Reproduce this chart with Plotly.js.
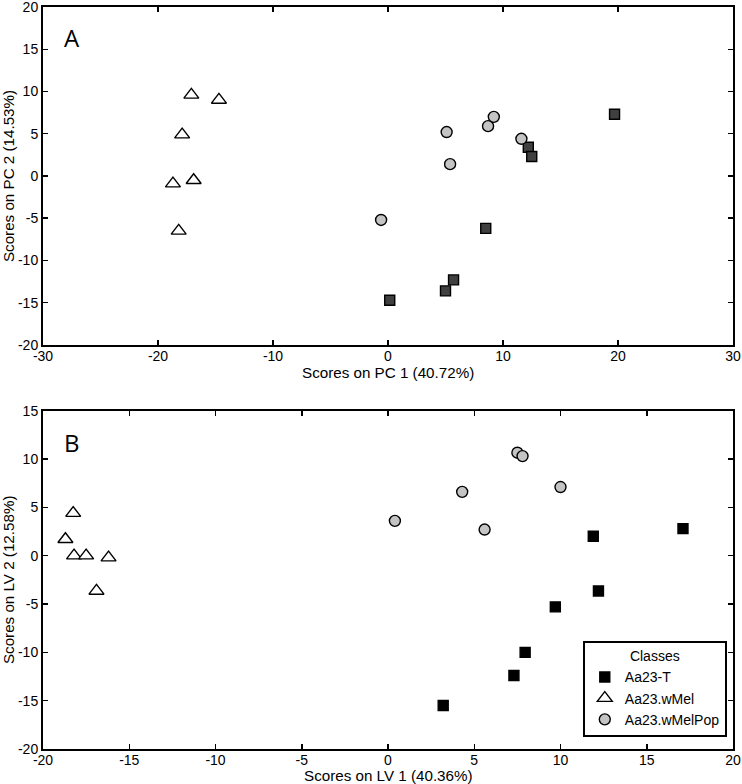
<!DOCTYPE html>
<html>
<head>
<meta charset="utf-8">
<script src="https://cdn.plot.ly/plotly-3.0.1.min.js"></script>
<style>html,body{margin:0;padding:0;background:#fff;}#chart{width:742px;height:784px;}</style>
</head>
<body>
<div id="chart"></div>
<script>
// Panel A (PCA scores)
const pcaT_x = [19.7, 12.2, 12.5, 8.5, 5.7, 5.0, 0.15];
const pcaT_y = [7.3, 3.4, 2.3, -6.2, -12.3, -13.6, -14.7];
const pcaWMel_x = [-17.1, -14.7, -17.9, -18.7, -16.9, -18.2];
const pcaWMel_y = [9.6, 9.0, 4.9, -0.9, -0.5, -6.5];
const pcaPop_x = [-0.6, 5.1, 5.4, 8.7, 9.2, 11.6];
const pcaPop_y = [-5.2, 5.2, 1.4, 5.9, 7.0, 4.4];

// Panel B (PLS-DA scores)
const plsT_x = [17.1, 11.9, 12.2, 9.7, 7.95, 7.3, 3.2];
const plsT_y = [2.8, 2.0, -3.65, -5.3, -10.0, -12.4, -15.5];
const plsWMel_x = [-18.25, -18.7, -18.2, -17.5, -16.2, -16.9];
const plsWMel_y = [4.4, 1.7, 0.0, 0.0, -0.2, -3.65];
const plsPop_x = [0.4, 4.3, 5.6, 7.5, 7.8, 10.0];
const plsPop_y = [3.6, 6.6, 2.7, 10.65, 10.3, 7.1];

// Tick values (labels written with a plain hyphen, as in the original)
const ticksA_x = [-30, -20, -10, 0, 10, 20, 30];
const ticksA_y = [-20, -15, -10, -5, 0, 5, 10, 15, 20];
const ticksB_x = [-20, -15, -10, -5, 0, 5, 10, 15, 20];
const ticksB_y = [-20, -15, -10, -5, 0, 5, 10, 15];

const classNames = ["Aa23-T", "Aa23.wMel", "Aa23.wMelPop"];
const xTitleA = "Scores on PC 1 (40.72%)";
const yTitleA = "Scores on PC 2 (14.53%)";
const xTitleB = "Scores on LV 1 (40.36%)";
const yTitleB = "Scores on LV 2 (12.58%)";

const FONT = "Liberation Sans, Arial, sans-serif";
const edge = {color: "#000", width: 1.4};

const traces = [
  {x: pcaT_x, y: pcaT_y, xaxis: "x", yaxis: "y", mode: "markers", type: "scatter", showlegend: false,
   marker: {symbol: "square", size: 10, color: "#404040", line: edge}},
  {x: pcaWMel_x, y: pcaWMel_y, xaxis: "x", yaxis: "y", mode: "markers", type: "scatter", showlegend: false,
   marker: {symbol: "triangle-up", size: 13, color: "#fff", line: edge}},
  {x: pcaPop_x, y: pcaPop_y, xaxis: "x", yaxis: "y", mode: "markers", type: "scatter", showlegend: false,
   marker: {symbol: "circle", size: 11, color: "#c4c4c4", line: edge}},
  {x: plsT_x, y: plsT_y, xaxis: "x2", yaxis: "y2", mode: "markers", type: "scatter", name: classNames[0],
   marker: {symbol: "square", size: 10, color: "#000", line: edge}},
  {x: plsWMel_x, y: plsWMel_y, xaxis: "x2", yaxis: "y2", mode: "markers", type: "scatter", name: classNames[1],
   marker: {symbol: "triangle-up", size: 13, color: "#fff", line: edge}},
  {x: plsPop_x, y: plsPop_y, xaxis: "x2", yaxis: "y2", mode: "markers", type: "scatter", name: classNames[2],
   marker: {symbol: "circle", size: 11, color: "#c4c4c4", line: edge}}
];

function axis(vals, extra) {
  return Object.assign({
    showline: true, linecolor: "#000", linewidth: 2, mirror: "ticks",
    ticks: "inside", ticklen: 5, tickwidth: 1.5, tickcolor: "#000",
    showgrid: false, zeroline: false, automargin: false, ticklabeloverflow: "allow",
    tickmode: "array", tickvals: vals, ticktext: vals.map(v => String(v)),
    tickfont: {family: FONT, size: 14, color: "#000"}
  }, extra);
}

const TF = {family: FONT, size: 15.2, color: "#000"};
const topA = 0.5445;   // bottom edge of panel A domain
const topB = 0.456;    // top edge of panel B domain

const layout = {
  width: 742, height: 784,
  margin: {l: 43, r: 9, t: 7, b: 35},
  paper_bgcolor: "#fff", plot_bgcolor: "#fff",
  font: {family: FONT, size: 15, color: "#000"},
  xaxis: axis(ticksA_x, {domain: [0, 1], range: [-30, 30], anchor: "y", ticklabelstandoff: -3}),
  yaxis: axis(ticksA_y, {domain: [topA, 1], range: [-20, 20], anchor: "x",
    title: {text: yTitleA, font: TF, standoff: 4}}),
  xaxis2: axis(ticksB_x, {domain: [0, 1], range: [-20, 20], anchor: "y2", ticklabelstandoff: -3}),
  yaxis2: axis(ticksB_y, {domain: [0, topB], range: [-20, 15], anchor: "x2",
    title: {text: yTitleB, font: TF, standoff: 4}}),
  showlegend: true,
  legend: {
    x: 0.991, xanchor: "right", y: 0.016, yanchor: "bottom",
    bgcolor: "#fff", bordercolor: "#000", borderwidth: 2,
    font: {family: FONT, size: 14, color: "#000"},
    title: {text: "Classes", side: "top center", font: {family: FONT, size: 14}},
    itemwidth: 30, tracegroupgap: 0
  },
  annotations: [
    {text: xTitleA, xref: "paper", yref: "paper", x: 0.5, y: topA, yshift: -27.5, showarrow: false,
     borderpad: 0, font: TF, xanchor: "center", yanchor: "middle"},
    {text: xTitleB, xref: "paper", yref: "paper", x: 0.5, y: 0, yshift: -26.5, showarrow: false,
     borderpad: 0, font: TF, xanchor: "center", yanchor: "middle"},
    {text: "A", xref: "x domain", yref: "y domain", x: 0.042, y: 0.909, showarrow: false,
     font: {family: "Open Sans, sans-serif", size: 24, color: "#000"}, xanchor: "center", yanchor: "middle"},
    {text: "B", xref: "x2 domain", yref: "y2 domain", x: 0.042, y: 0.907, showarrow: false,
     font: {family: "Open Sans, sans-serif", size: 24, color: "#000"}, xanchor: "center", yanchor: "middle"}
  ]
};

Plotly.newPlot("chart", traces, layout, {displayModeBar: false, staticPlot: true});
</script>
</body>
</html>
